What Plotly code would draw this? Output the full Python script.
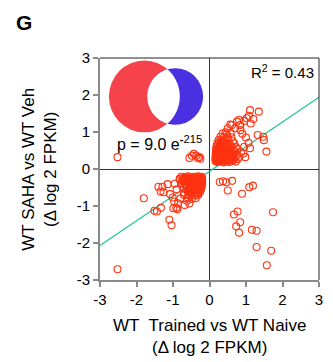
import numpy as np
import plotly.graph_objects as go

# ---------------- data ----------------
ur_x = [0.17, 0.22, 0.27, 0.33, 0.39, 0.46, 0.54, 0.63, 0.72,
        0.16, 0.21, 0.26, 0.31, 0.37, 0.43, 0.50, 0.58, 0.67, 0.78,
        0.17, 0.22, 0.27, 0.32, 0.38, 0.44, 0.51, 0.59, 0.69, 0.82,
        0.17, 0.22, 0.28, 0.34, 0.40, 0.47, 0.55, 0.64, 0.75,
        0.18, 0.23, 0.29, 0.35, 0.42, 0.50, 0.59, 0.70, 0.86,
        0.18, 0.24, 0.30, 0.37, 0.45, 0.54, 0.64, 0.77,
        0.19, 0.26, 0.33, 0.41, 0.50, 0.60, 0.72,
        0.21, 0.29, 0.37, 0.46, 0.56, 0.68,
        0.25, 0.33, 0.42, 0.52, 0.64,
        0.30, 0.39, 0.49, 0.60,
        0.36, 0.47, 0.58,
        0.19, 0.25, 0.30, 0.36, 0.42, 0.50, 0.58,
        0.18, 0.24, 0.29, 0.34, 0.40, 0.47, 0.54, 0.62,
        0.19, 0.25, 0.30, 0.35, 0.41, 0.48, 0.55, 0.64,
        0.20, 0.25, 0.31, 0.37, 0.44, 0.51, 0.60,
        0.21, 0.27, 0.33, 0.40, 0.47, 0.56,
        0.22, 0.28, 0.34, 0.41, 0.50,
        0.24, 0.31, 0.39, 0.48,
        0.27, 0.34, 0.43]
ur_y = [0.21, 0.19, 0.22, 0.20, 0.18, 0.21, 0.19, 0.22, 0.20,
        0.27, 0.25, 0.28, 0.26, 0.24, 0.27, 0.25, 0.28, 0.26, 0.27,
        0.33, 0.31, 0.34, 0.32, 0.30, 0.33, 0.31, 0.34, 0.32, 0.33,
        0.39, 0.37, 0.40, 0.38, 0.36, 0.39, 0.37, 0.40, 0.38,
        0.46, 0.44, 0.47, 0.45, 0.43, 0.46, 0.44, 0.47, 0.45,
        0.53, 0.51, 0.54, 0.52, 0.50, 0.53, 0.51, 0.54,
        0.61, 0.59, 0.62, 0.60, 0.58, 0.61, 0.59,
        0.69, 0.67, 0.70, 0.68, 0.66, 0.69,
        0.78, 0.76, 0.79, 0.77, 0.75,
        0.87, 0.85, 0.88, 0.86,
        0.96, 0.94, 0.97,
        0.23, 0.24, 0.22, 0.23, 0.24, 0.22, 0.23,
        0.29, 0.30, 0.28, 0.29, 0.30, 0.28, 0.29, 0.30,
        0.35, 0.36, 0.34, 0.35, 0.36, 0.34, 0.35, 0.36,
        0.42, 0.43, 0.41, 0.42, 0.43, 0.41, 0.42,
        0.49, 0.50, 0.48, 0.49, 0.50, 0.48,
        0.56, 0.57, 0.55, 0.56, 0.57,
        0.64, 0.65, 0.63, 0.64,
        0.72, 0.73, 0.71]

ur_out_x = [1.11, 1.35, 1.08, 1.02, 1.13, 0.95, 0.75, 0.62, 0.84, 0.44, 1.32, 1.47, 1.49,
            1.56, 1.07, 1.11, 0.98, 0.93, 0.57, 0.70, 0.90, 1.00, 0.85, 0.50, 0.95, 1.20, 0.81]
ur_out_y = [1.59, 1.55, 1.44, 1.37, 1.23, 1.30, 1.28, 1.19, 1.19, 0.99, 0.92, 0.87, 0.78,
            0.47, 0.71, 0.56, 0.32, 0.42, 1.20, 1.10, 0.95, 0.85, 1.05, 1.10, 0.60, 1.35, 1.33]

ul_x = [-0.55, -0.43, -0.32, -0.28, -0.25, -0.48, -0.36, -2.52]
ul_y = [0.30, 0.41, 0.30, 0.32, 0.28, 0.36, 0.36, 0.32]

ll_x = [-0.21, -0.26, -0.31, -0.37, -0.43, -0.50, -0.58, -0.67, -0.77,
        -0.20, -0.25, -0.30, -0.35, -0.41, -0.47, -0.54, -0.62, -0.71, -0.82,
        -0.20, -0.25, -0.30, -0.36, -0.42, -0.48, -0.55, -0.63, -0.73,
        -0.20, -0.25, -0.31, -0.37, -0.43, -0.50, -0.58, -0.67, -0.78,
        -0.21, -0.27, -0.33, -0.39, -0.46, -0.54, -0.63, -0.74,
        -0.23, -0.29, -0.36, -0.43, -0.51, -0.60, -0.71,
        -0.26, -0.33, -0.41, -0.49, -0.58, -0.69,
        -0.31, -0.39, -0.48, -0.58, -0.70,
        -0.38, -0.48, -0.59,
        -0.23, -0.28, -0.34, -0.40, -0.47, -0.54, -0.62, -0.72,
        -0.22, -0.27, -0.33, -0.38, -0.44, -0.51, -0.58, -0.67,
        -0.22, -0.28, -0.33, -0.39, -0.46, -0.53, -0.61,
        -0.23, -0.29, -0.35, -0.41, -0.48, -0.56, -0.66,
        -0.25, -0.31, -0.38, -0.45, -0.53, -0.62,
        -0.28, -0.35, -0.43, -0.51, -0.60,
        -0.32, -0.40, -0.49]
ll_y = [-0.21, -0.23, -0.20, -0.22, -0.21, -0.23, -0.20, -0.22, -0.21,
        -0.27, -0.29, -0.26, -0.28, -0.27, -0.29, -0.26, -0.28, -0.27, -0.28,
        -0.33, -0.35, -0.32, -0.34, -0.33, -0.35, -0.32, -0.34, -0.33,
        -0.40, -0.42, -0.39, -0.41, -0.40, -0.42, -0.39, -0.41, -0.40,
        -0.47, -0.49, -0.46, -0.48, -0.47, -0.49, -0.46, -0.48,
        -0.54, -0.56, -0.53, -0.55, -0.54, -0.56, -0.53,
        -0.62, -0.64, -0.61, -0.63, -0.62, -0.64,
        -0.70, -0.72, -0.69, -0.71, -0.70,
        -0.79, -0.81, -0.78,
        -0.24, -0.25, -0.23, -0.24, -0.25, -0.23, -0.24, -0.25,
        -0.30, -0.31, -0.29, -0.30, -0.31, -0.29, -0.30, -0.31,
        -0.37, -0.38, -0.36, -0.37, -0.38, -0.36, -0.37,
        -0.44, -0.45, -0.43, -0.44, -0.45, -0.43, -0.44,
        -0.51, -0.52, -0.50, -0.51, -0.52, -0.50,
        -0.58, -0.59, -0.57, -0.58, -0.59,
        -0.66, -0.67, -0.65]

ll_out_x = [-1.80, -1.51, -1.44, -1.33, -1.10, -1.04, -1.29, -1.15, -1.34, -1.26, -1.08, -1.01, -0.99,
            -0.88, -0.86, -0.97, -0.68, -0.55, -0.81, -0.73, -1.40, -0.91, -0.80, -0.62, -0.90, -0.95, -2.52]
ll_out_y = [-0.79, -1.13, -1.15, -1.05, -1.37, -1.52, -0.48, -0.41, -0.61, -0.63, -0.68, -0.77, -1.06,
            -1.09, -0.93, -0.88, -0.97, -0.93, -0.26, -0.31, -0.48, -1.05, -0.80, -0.86, -0.55, -0.40, -2.71]

lr_x = [0.28, 0.37, 0.46, 0.62, 0.50, 0.89, 1.09, 1.19, 1.74, 0.77, 0.67, 0.84, 0.73, 0.81,
        1.16, 1.29, 1.29, 1.69, 1.57]
lr_y = [-0.35, -0.33, -0.36, -0.32, -0.58, -0.67, -0.49, -0.45, -1.17, -1.15, -1.23, -1.44, -1.55, -1.72,
        -1.64, -1.67, -2.11, -2.21, -2.60]

fit_slope = 0.668
fit_intercept = -0.065
fit_range = [-3, 3]

x_ticks = [-3, -2, -1, 0, 1, 2, 3]
y_ticks = [-3, -2, -1, 0, 1, 2, 3]

# ---------------- figure ----------------
MARK = "#FF3311"
FONT = "Arial, Liberation Sans, Helvetica, sans-serif"

all_x = ur_x + ur_out_x + ul_x + ll_x + ll_out_x + lr_x
all_y = ur_y + ur_out_y + ul_y + ll_y + ll_out_y + lr_y

fig = go.Figure()

fit_y = [fit_slope * v + fit_intercept for v in fit_range]
fig.add_trace(go.Scatter(x=fit_range, y=fit_y, mode="lines",
                         line=dict(color="#22C697", width=1.2), hoverinfo="skip"))

fig.add_trace(go.Scatter(x=all_x, y=all_y, mode="markers",
                         marker=dict(symbol="circle-open", size=7, color=MARK,
                                     line=dict(width=1.1, color=MARK))))

# Venn diagram (decoration)
red_c, red_r = (-1.785, 1.96), 0.97
blue_c, blue_r = (-0.94, 1.96), 0.765
shapes = [
    dict(type="circle", xref="x", yref="y", x0=red_c[0] - red_r, x1=red_c[0] + red_r,
         y0=red_c[1] - red_r, y1=red_c[1] + red_r, fillcolor="#F6424A", line=dict(width=0)),
    dict(type="circle", xref="x", yref="y", x0=blue_c[0] - blue_r, x1=blue_c[0] + blue_r,
         y0=blue_c[1] - blue_r, y1=blue_c[1] + blue_r, fillcolor="#4A30E0", line=dict(width=0)),
]
d = blue_c[0] - red_c[0]
a = (d ** 2 + red_r ** 2 - blue_r ** 2) / (2 * d)
h = np.sqrt(red_r ** 2 - a ** 2)
t1 = np.arctan2(h, a)          # angle of the top intersection seen from red centre
t2 = np.arctan2(h, a - d)      # angle of the top intersection seen from blue centre
ang_r = np.linspace(t1, -t1, 48)                 # red right arc, top -> bottom
ang_b = np.linspace(2 * np.pi - t2, t2, 48)      # blue left arc, bottom -> top
pts = [(red_c[0] + red_r * np.cos(t), red_c[1] + red_r * np.sin(t)) for t in ang_r]
pts += [(blue_c[0] + blue_r * np.cos(t), blue_c[1] + blue_r * np.sin(t)) for t in ang_b]
path = "M " + " L ".join(f"{px:.4f},{py:.4f}" for px, py in pts) + " Z"
shapes.append(dict(type="path", xref="x", yref="y", path=path, fillcolor="white", line=dict(width=0)))

# frame: top and right thin black lines
shapes += [
    dict(type="line", xref="paper", yref="paper", x0=0, x1=1, y0=1, y1=1, line=dict(color="#222", width=1)),
    dict(type="line", xref="paper", yref="paper", x0=1, x1=1, y0=0, y1=1, line=dict(color="#222", width=1)),
]

fig.update_layout(
    width=333, height=362,
    margin=dict(l=100, r=10, t=58, b=82),
    paper_bgcolor="white", plot_bgcolor="white",
    showlegend=False,
    font=dict(family=FONT, size=15, color="black"),
    shapes=shapes,
    annotations=[
        dict(text="<b>G</b>", xref="paper", yref="paper", x=-0.345, y=1.158,
             xanchor="center", yanchor="middle", showarrow=False, font=dict(size=21)),
        dict(text="R<sup>2</sup> = 0.43", xref="x", yref="y", x=2.93, y=2.64,
             xanchor="right", yanchor="middle", showarrow=False, font=dict(size=15)),
        dict(text="p = 9.0 e<sup><b>-</b>215</sup>", xref="x", yref="y", x=-2.58, y=0.70,
             xanchor="left", yanchor="middle", showarrow=False, font=dict(size=16)),
        dict(text="WT SAHA vs WT Veh<br>(\u0394 log 2 FPKM)", xref="paper", yref="paper",
             x=-0.28, y=0.5, xanchor="center", yanchor="middle", textangle=-90,
             showarrow=False, font=dict(size=17)),
        dict(text="WT\u00a0 Trained vs WT Naive<br>(\u0394 log 2 FPKM)", xref="paper", yref="paper",
             x=0.5, y=-0.255, xanchor="center", yanchor="middle",
             showarrow=False, font=dict(size=17)),
    ],
)

axis_common = dict(range=[-3, 3], showgrid=False, zeroline=True, zerolinecolor="#333",
                   zerolinewidth=1, showline=True, linecolor="#8a8a8a", linewidth=2,
                   ticks="outside", ticklen=5, tickwidth=1.5, tickcolor="#8a8a8a",
                   tickfont=dict(size=15, color="black"), fixedrange=True)
fig.update_xaxes(tickvals=x_ticks, ticktext=[str(v) for v in x_ticks], **axis_common)
fig.update_yaxes(tickvals=y_ticks, ticktext=[str(v) for v in y_ticks], **axis_common)

fig.write_html("out.html")
